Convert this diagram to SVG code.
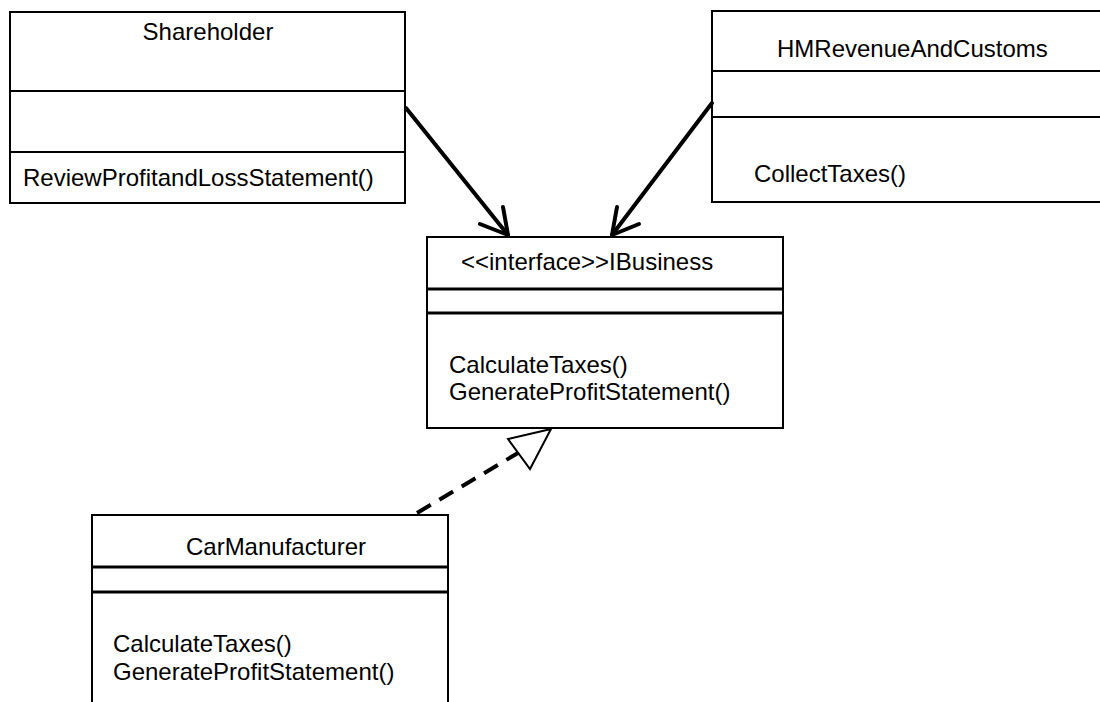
<svg xmlns="http://www.w3.org/2000/svg" width="1100" height="702" viewBox="0 0 1100 702">
<style>
.box{fill:#fff;stroke:#000;stroke-width:2}
.div{stroke:#000;stroke-width:2}
.div3{stroke:#000;stroke-width:3}
text{font-family:"Liberation Sans",Arial,sans-serif;font-size:24px;fill:#000}
.assoc{fill:none;stroke:#000;stroke-width:4;stroke-linecap:round;stroke-linejoin:round}
.real{fill:none;stroke:#000;stroke-width:4;stroke-dasharray:16,10}
.tri{fill:#fff;stroke:#000;stroke-width:2}
</style>
<rect width="1100" height="702" fill="#fff"/>
<g id="Shareholder">
<rect class="box" x="10" y="12" width="395" height="191"/>
<line class="div" x1="10" y1="91" x2="405" y2="91"/>
<line class="div" x1="10" y1="152" x2="405" y2="152"/>
<text x="208" y="40" text-anchor="middle">Shareholder</text>
<text x="23" y="186">ReviewProfitandLossStatement()</text>
</g>
<g id="HMRevenueAndCustoms">
<rect class="box" x="712" y="11" width="400" height="191"/>
<line class="div" x1="712" y1="71" x2="1100" y2="71"/>
<line class="div" x1="712" y1="117" x2="1100" y2="117"/>
<text x="777" y="57">HMRevenueAndCustoms</text>
<text x="754" y="182">CollectTaxes()</text>
</g>
<g id="IBusiness">
<rect class="box" x="427" y="237" width="356" height="191"/>
<line class="div3" x1="427" y1="289" x2="783" y2="289"/>
<line class="div3" x1="427" y1="313" x2="783" y2="313"/>
<text x="461" y="270">&lt;&lt;interface&gt;&gt;IBusiness</text>
<text x="449" y="373">CalculateTaxes()</text>
<text x="449" y="400">GenerateProfitStatement()</text>
</g>
<g id="CarManufacturer">
<rect class="box" x="92" y="515" width="356" height="200"/>
<line class="div3" x1="92" y1="567" x2="448" y2="567"/>
<line class="div3" x1="92" y1="592" x2="448" y2="592"/>
<text x="276" y="555" text-anchor="middle">CarManufacturer</text>
<text x="113" y="652">CalculateTaxes()</text>
<text x="113" y="680">GenerateProfitStatement()</text>
</g>
<g id="connectors">
<line class="assoc" x1="406" y1="108" x2="508" y2="235"/>
<polyline class="assoc" points="480,224 508,235 503,207"/>
<line class="assoc" x1="712" y1="103" x2="612" y2="235"/>
<polyline class="assoc" points="617,207 612,235 639,224"/>
<line class="real" x1="417" y1="513" x2="518" y2="453"/>
<polygon class="tri" points="508,439 551,429 530,469"/>
</g>
</svg>
